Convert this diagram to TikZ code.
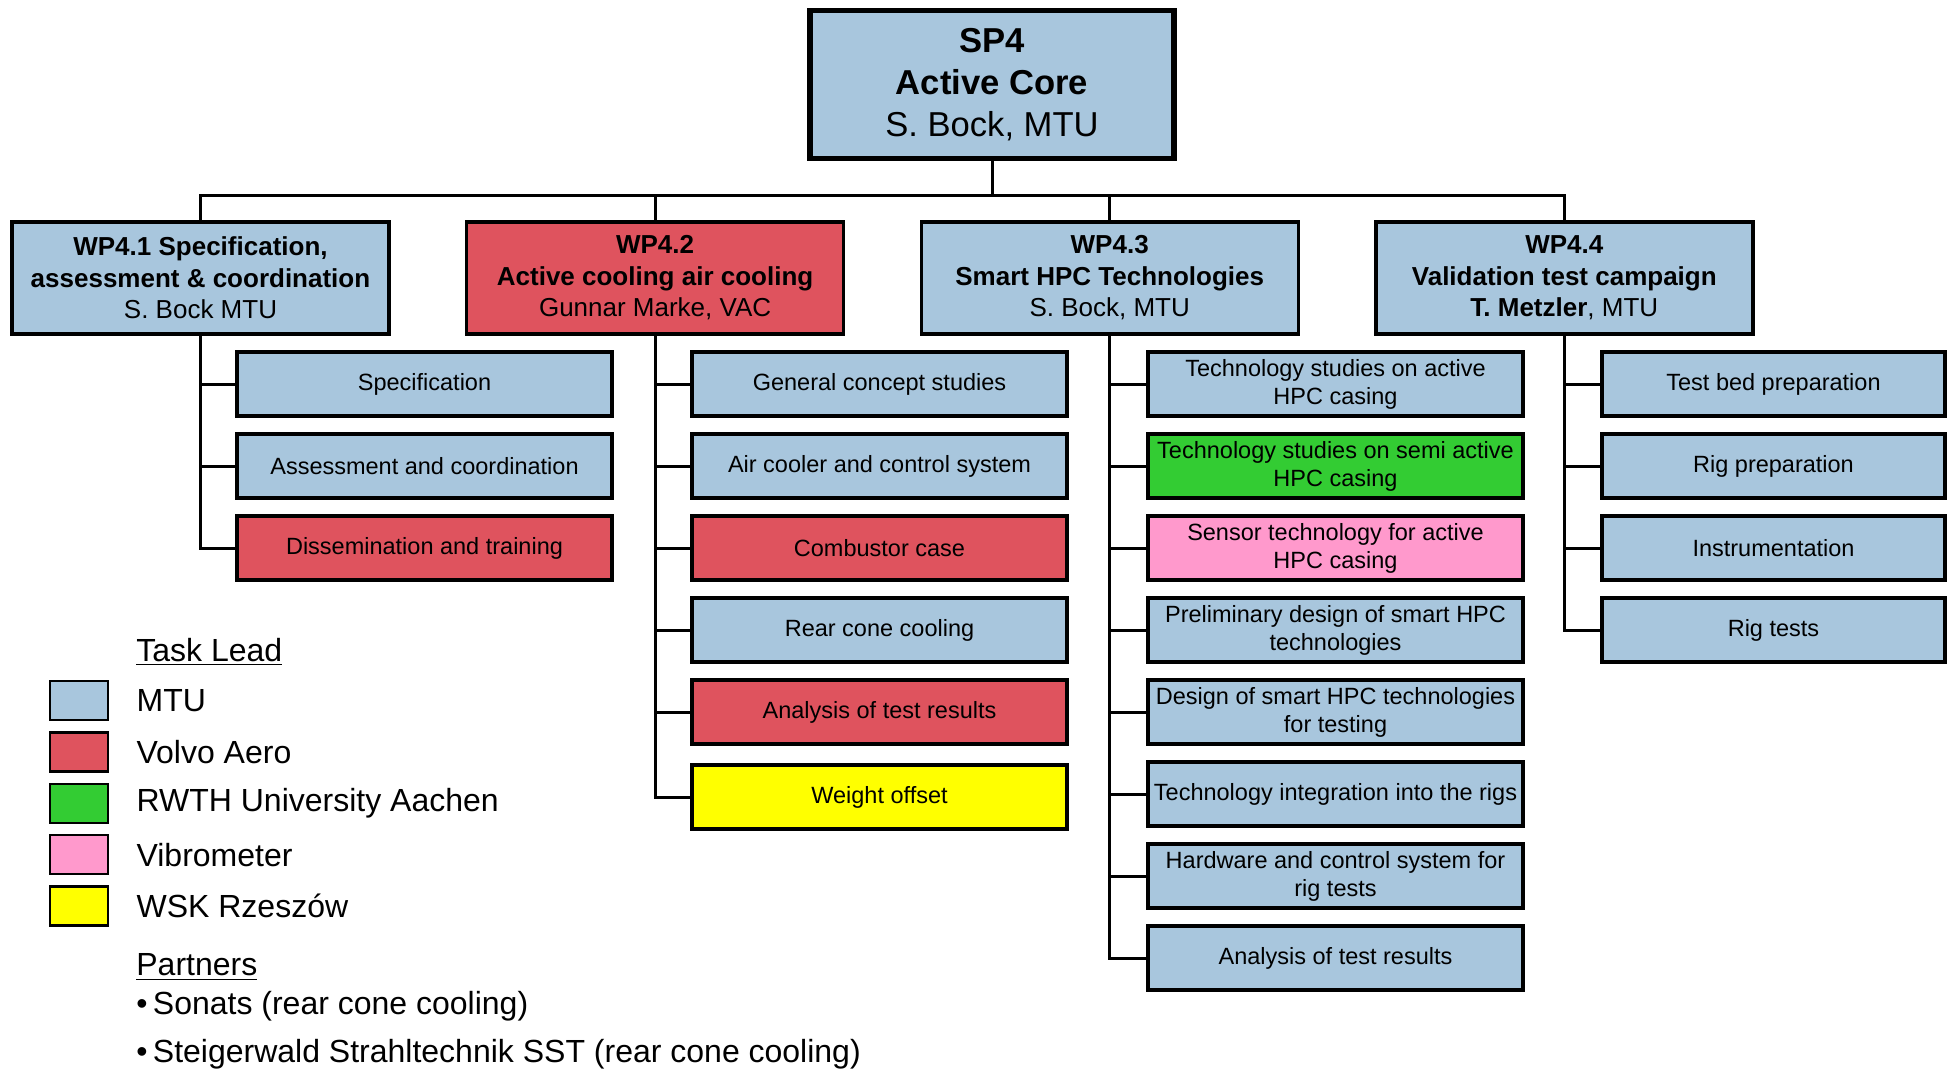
\documentclass[tikz,border=0pt]{standalone}
\usepackage{fontspec}
\setmainfont{Liberation Sans}
\usepackage{tikz}
\usetikzlibrary{positioning}
\definecolor{mtublue}{RGB}{168,198,221}
\definecolor{volvored}{RGB}{223,83,94}
\definecolor{rwthgreen}{RGB}{51,204,51}
\definecolor{vibpink}{RGB}{255,153,204}
\definecolor{wskyellow}{RGB}{255,255,0}
\tikzstyle{spbox} = [draw, rectangle, line width=2.7pt, fill=mtublue, minimum width=182pt, minimum height=74pt, align=center, font=\fontsize{17.3}{21}\selectfont]
\tikzstyle{wpbox} = [draw, rectangle, line width=1.7pt, minimum width=188.5pt, minimum height=56pt, align=center, node distance=227.3pt, font=\fontsize{13}{15.75}\selectfont]
\tikzstyle{task} = [draw, rectangle, line width=1.6pt, fill=mtublue, minimum width=187.5pt, minimum height=32pt, inner sep=1pt, align=center, node distance=41pt, font=\fontsize{11.75}{14}\selectfont]
\tikzstyle{rigtask} = [task, minimum width=171.5pt]
\tikzstyle{legendbox} = [draw, rectangle, line width=1.2pt, minimum width=29pt, minimum height=19.5pt, node distance=25.7pt]
\tikzstyle{keytext} = [anchor=west, inner sep=0pt, font=\fontsize{16}{20}\selectfont]
\tikzstyle{link} = [line width=1.5pt]

\begin{document}
\begin{tikzpicture}[x=0.5pt, y=0.5pt]
    \useasboundingbox (0,0) rectangle (1948,-1071);
    % sub-project and work packages
    \node[spbox, name=sp4] at (992,-84.5) {\textbf{SP4}\\\textbf{Active Core}\\S. Bock, MTU};
    \coordinate (bus) at (992,-195);
    \node[wpbox, fill=mtublue, name=wp1] at (200.5,-278) {\textbf{WP4.1 Specification,}\\\textbf{assessment \& coordination}\\S. Bock MTU};
    \node[wpbox, fill=volvored, right of=wp1, name=wp2] {\textbf{WP4.2}\\\textbf{Active cooling air cooling}\\Gunnar Marke, VAC};
    \node[wpbox, fill=mtublue, right of=wp2, name=wp3] {\textbf{WP4.3}\\\textbf{Smart HPC Technologies}\\S. Bock, MTU};
    \node[wpbox, fill=mtublue, right of=wp3, name=wp4] {\textbf{WP4.4}\\\textbf{Validation test campaign}\\\textbf{T. Metzler}, MTU};

    \draw[link] (sp4) -- (bus);
    \draw[link] (bus) -| (wp1.north);
    \draw[link] (bus) -| (wp2.north);
    \draw[link] (bus) -| (wp3.north);
    \draw[link] (bus) -| (wp4.north);

    % WP4.1 tasks
    \node[task, name=t11] at (424.5,-384) {Specification};
    \node[task, below of=t11, name=t12] {Assessment and coordination};
    \node[task, below of=t12, name=t13, fill=volvored] {Dissemination and training};

    % WP4.2 tasks
    \node[task, name=t21] at (879.5,-384) {General concept studies};
    \node[task, below of=t21, name=t22] {Air cooler and control system};
    \node[task, below of=t22, name=t23, fill=volvored] {Combustor case};
    \node[task, below of=t23, name=t24] {Rear cone cooling};
    \node[task, below of=t24, name=t25, fill=volvored] {Analysis of test results};
    \node[task, below of=t25, name=t26, fill=wskyellow, yshift=-1.5pt] {Weight offset};

    % WP4.3 tasks
    \node[task, name=t31] at (1335.5,-384) {Technology studies on active\\HPC casing};
    \node[task, below of=t31, name=t32, fill=rwthgreen] {Technology studies on semi active\\HPC casing};
    \node[task, below of=t32, name=t33, fill=vibpink] {Sensor technology for active\\HPC casing};
    \node[task, below of=t33, name=t34] {Preliminary design of smart HPC\\technologies};
    \node[task, below of=t34, name=t35] {Design of smart HPC technologies\\for testing};
    \node[task, below of=t35, name=t36] {Technology integration into the rigs};
    \node[task, below of=t36, name=t37] {Hardware and control system for\\rig tests};
    \node[task, below of=t37, name=t38] {Analysis of test results};

    % WP4.4 tasks
    \node[rigtask, name=t41] at (1773.5,-384) {Test bed preparation};
    \node[rigtask, below of=t41, name=t42] {Rig preparation};
    \node[rigtask, below of=t42, name=t43] {Instrumentation};
    \node[rigtask, below of=t43, name=t44] {Rig tests};

    \draw[link] (wp1.south) |- (t11.west);
    \draw[link] (wp1.south) |- (t12.west);
    \draw[link] (wp1.south) |- (t13.west);

    \draw[link] (wp2.south) |- (t21.west);
    \draw[link] (wp2.south) |- (t22.west);
    \draw[link] (wp2.south) |- (t23.west);
    \draw[link] (wp2.south) |- (t24.west);
    \draw[link] (wp2.south) |- (t25.west);
    \draw[link] (wp2.south) |- (t26.west);

    \draw[link] (wp3.south) |- (t31.west);
    \draw[link] (wp3.south) |- (t32.west);
    \draw[link] (wp3.south) |- (t33.west);
    \draw[link] (wp3.south) |- (t34.west);
    \draw[link] (wp3.south) |- (t35.west);
    \draw[link] (wp3.south) |- (t36.west);
    \draw[link] (wp3.south) |- (t37.west);
    \draw[link] (wp3.south) |- (t38.west);

    \draw[link] (wp4.south) |- (t41.west);
    \draw[link] (wp4.south) |- (t42.west);
    \draw[link] (wp4.south) |- (t43.west);
    \draw[link] (wp4.south) |- (t44.west);

    % legend
    \node[keytext, name=lead] at (136,-652) {\underline{Task Lead}};
    \node[legendbox, fill=mtublue, name=k1] at (79,-700.5) {};
    \node[legendbox, fill=volvored, below of=k1, name=k2] {};
    \node[legendbox, fill=rwthgreen, below of=k2, name=k3] {};
    \node[legendbox, fill=vibpink, below of=k3, name=k4] {};
    \node[legendbox, fill=wskyellow, below of=k4, name=k5] {};
    \node[keytext, right=13.5pt of k1.east, name=l1] {MTU};
    \node[keytext, right=13.5pt of k2.east, name=l2] {Volvo Aero};
    \node[keytext, right=13.5pt of k3.east, name=l3] {RWTH University Aachen};
    \node[keytext, right=13.5pt of k4.east, name=l4] {Vibrometer};
    \node[keytext, right=13.5pt of k5.east, name=l5] {WSK Rzeszów};

    \node[keytext, name=partners] at (136,-967) {\underline{Partners}};
    \node[keytext, name=p1] at (136,-1006) {\textbullet\,Sonats (rear cone cooling)};
    \node[keytext, name=p2] at (136,-1054) {\textbullet\,Steigerwald Strahltechnik SST (rear cone cooling)};
\end{tikzpicture}
\end{document}
